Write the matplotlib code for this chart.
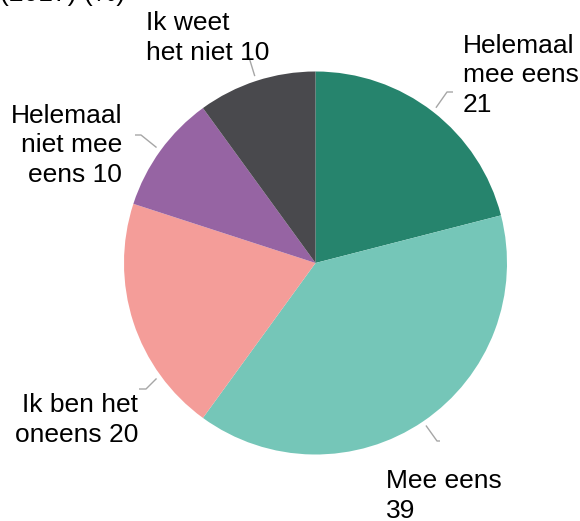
import numpy as np
import matplotlib
matplotlib.use("Agg")
import matplotlib.pyplot as plt

# ---- data ----
categories = ["Helemaal\nmee eens", "Mee eens", "Ik ben het\noneens",
              "Helemaal\nniet mee\neens", "Ik weet\nhet niet"]
values = [21, 39, 20, 10, 10]
label_texts = ["Helemaal\nmee eens\n21", "Mee eens\n39", "Ik ben het\noneens 20",
               "Helemaal\nniet mee\neens 10", "Ik weet\nhet niet 10"]
colors = ["#26846d", "#75c6b8", "#f49d99", "#9664a3", "#49494d"]
title_fragment = "(2017) (%)"

W, H = 580, 521
fig = plt.figure(figsize=(W / 100, H / 100), dpi=100)
ax = fig.add_axes([0, 0, 1, 1])
ax.set_xlim(0, W)
ax.set_ylim(0, H)
ax.set_aspect("equal")
ax.axis("off")

def Y(y):
    return H - y

cx, cy, r = 315.5, 263, 191.5
wedges, _ = ax.pie(values, colors=colors, startangle=90, counterclock=False,
                   center=(cx, Y(cy)), radius=r, frame=True,
                   wedgeprops=dict(linewidth=0))
ax.set_xlim(0, W)
ax.set_ylim(0, H)
ax.axis("off")

font = "Liberation Sans"
fs = 19

# label layout: (x, last-line baseline y, ha), anchor fraction in wedge, leader elbow points
label_pos = [(463, 112, "left"), (386, 518, "left"), (138, 442, "right"),
             (122, 182, "right"), (146, 60, "left")]
anchor_frac = [0.5, 0.5, 0.25, 0.5, 0.5]
elbows = [[(447, 92), (453, 92)],
          [(437, 441), (440, 441)],
          [(146, 389), (139, 389)],
          [(141, 135), (135, 135)],
          [(248, 54)]]

for w, txt, (lx, ly, ha), fr, el in zip(wedges, label_texts, label_pos, anchor_frac, elbows):
    t1, t2 = w.theta1, w.theta2
    ang = np.deg2rad(t2 - fr * (t2 - t1))
    sx = cx + 1.026 * r * np.cos(ang)
    sy = Y(cy) + 1.026 * r * np.sin(ang)
    xs = [sx] + [p[0] for p in el]
    ys = [sy] + [Y(p[1]) for p in el]
    ax.plot(xs, ys, color="#a6a6a6", lw=1.0, solid_capstyle="butt")
    ax.text(lx, Y(ly), txt, ha=ha, va="baseline", multialignment=ha,
            fontsize=fs, family=font, color="black", linespacing=1.3)

ax.text(0, Y(1), title_fragment, ha="left", va="baseline",
        fontsize=fs, family=font, color="black")

fig.savefig("out.png", dpi=100)
